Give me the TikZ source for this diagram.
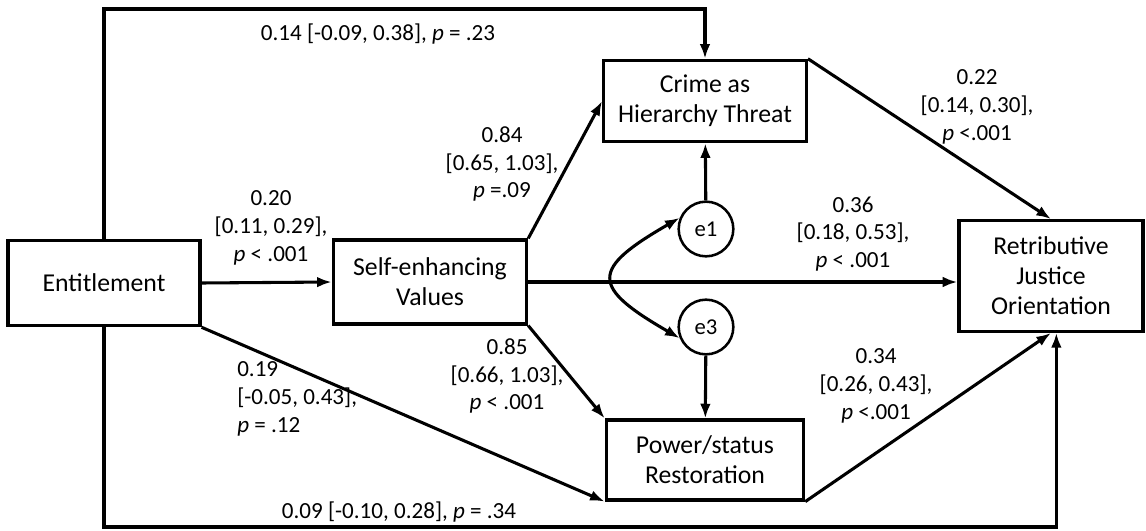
\documentclass[tikz,border=0pt]{standalone}
\usepackage{fontspec}
\setmainfont{Carlito}
\usepackage{tikz}
\usetikzlibrary{arrows.meta}
\tikzset{>={Latex[length=11pt, width=8pt]}}

\tikzset{
    var/.style={draw, line width=2.4pt, align=center, inner sep=2pt, font=\fontsize{19.3}{22.5}\selectfont},
    err/.style={draw, circle, line width=1.9pt, minimum size=41pt, inner sep=0pt, font=\fontsize{17}{20}\selectfont},
    path/.style={->, line width=2.3pt},
    est/.style={align=center, inner sep=0pt, font=\fontsize{17.3}{20.8}\selectfont}
}

\begin{document}
\begin{tikzpicture}[x=0.75pt, y=-0.75pt]
    \useasboundingbox (0, 0) rectangle (1146, 531);
    \coordinate (top) at (0, 9);
    \coordinate (bot) at (0, 527);
    % variables
    \node[var, minimum width=144pt, minimum height=64pt] (ent) at (104, 283) {Entitlement};
    \node[var, minimum width=145pt, minimum height=63pt] (self) at (430, 282) {Self-enhancing\\Values};
    \node[var, minimum width=152pt, minimum height=61pt] (crime) at (705, 101) {Crime as\\Hierarchy Threat};
    \node[var, minimum width=148pt, minimum height=60pt] (pow) at (705, 460) {Power/status\\Restoration};
    \node[var, minimum width=138pt, minimum height=83pt] (ret) at (1051, 276) {Retributive\\Justice\\Orientation};
    \node[err] (e1) at (706, 229) {e1};
    \node[err] (e3) at (706, 327) {e3};
    % paths
    \draw[path] (ent.east) -- (self.west);
    \draw[path] (self.north east) -- (crime.west);
    \draw[path] (self.east) -- (self.east -| ret.west);
    \draw[path] (self.south east) -- (pow.north west);
    \draw[path] (ent.south east) -- (pow.south west);
    \draw[path] (crime.north east) -- (ret.north);
    \draw[path] (pow.south east) -- (ret.south);
    \draw[path] (e1) -- (crime);
    \draw[path] (e3) -- (pow);
    \draw[path] (ent.north) -- (ent.north |- top) -| (crime.north);
    \draw[path] (ent.south) -- (ent.south |- bot) -| ([xshift=4pt]ret.south);
    \draw[path, <->] (e1.157) to[out=210, in=150, looseness=2.2] (e3.203);
    % estimates
    \node[est] (b1) at (378, 34) {0.14 {[}-0.09, 0.38], \textit{p} = .23};
    \node[est] (b2) at (271, 228) {0.20\\{[}0.11, 0.29],\\\textit{p} < .001};
    \node[est] (b3) at (502, 164) {0.84\\{[}0.65, 1.03],\\\textit{p} =.09};
    \node[est] (b4) at (977, 107) {0.22\\{[}0.14, 0.30],\\\textit{p} <.001};
    \node[est] (b5) at (853, 234) {0.36\\{[}0.18, 0.53],\\\textit{p} < .001};
    \node[est] (b6) at (507, 376) {0.85\\{[}0.66, 1.03],\\\textit{p} < .001};
    \node[est, align=left, anchor=west] (b7) at (237, 399) {0.19\\{[}-0.05, 0.43],\\\textit{p} = .12};
    \node[est] (b8) at (876, 386) {0.34\\{[}0.26, 0.43],\\\textit{p} <.001};
    \node[est] (b9) at (399, 512) {0.09 {[}-0.10, 0.28], \textit{p} = .34};
\end{tikzpicture}
\end{document}
